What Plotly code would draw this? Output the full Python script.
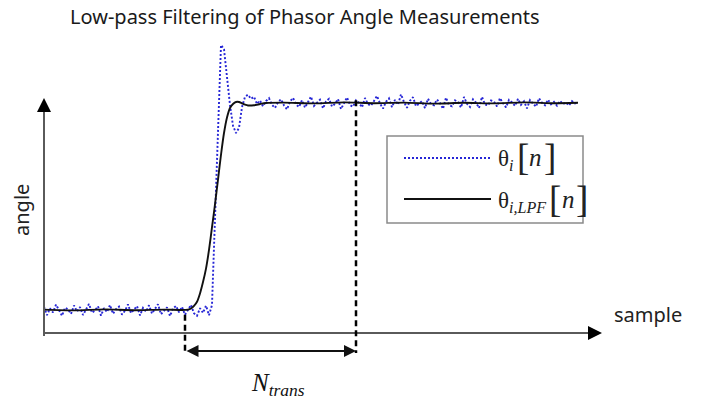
import plotly.graph_objects as go

W, H = 707, 402

# ---- data (sample index n, angle in arbitrary units: 0 = pre-step level, 100 = post-step level)
theta_pre = [
    1.5, -2.5, 0.8, -1.2, 2.6, -0.5, -2.8, 1.1, 0.3, -1.9,
    2.2, -0.7, 1.4, -2.4, 0.6, 2.9, -1.3, -0.2, 1.8, -2.7,
    0.9, -1.0, 2.4, -1.8, 0.4, 1.6, -2.2, -0.4, 2.7, -1.5,
    0.2, 1.9, -2.6, 1.0, -0.8, 2.3, -1.7, 0.5, 2.8, -2.1,
    -0.3, 1.3, -2.9, 0.7, 2.0, -1.1, 1.5, -2.3, 0.1, 2.5,
    -1.6, -2.8, 0.9, -1.4, 2.1, -2.5,
]
theta_step = [2.4, 45, 92, 128, 126, 111, 99, 89, 85.5, 88, 98, 103, 104, 102, 103, 99.5]
theta_post = [
    101.2, 98.4, 100.9, 102.3, 99.1, 97.6, 100.4, 101.8, 98.8, 96.9,
    100.7, 102.5, 99.3, 98.1, 101.4, 97.8, 100.2, 103.1, 98.6, 99.9,
    101.6, 97.4, 100.8, 102.0, 98.3, 99.6, 101.9, 97.1, 100.3, 102.7,
    99.0, 98.2, 101.3, 100.1, 97.9, 102.4, 99.4, 98.7, 101.0, 103.4,
    99.8, 97.3, 100.6, 102.2, 98.0, 101.5, 99.2, 104.2, 100.5, 97.7,
    101.1, 102.8, 98.5, 99.7, 100.9, 97.5, 102.1, 99.5, 98.9, 101.7,
    100.0, 97.2, 102.6, 99.0, 98.4, 101.3, 100.4, 97.8, 102.9, 99.6,
    98.1, 101.8, 100.2, 97.6, 103.0, 99.3, 98.8, 101.2, 100.7, 98.3,
    102.4, 99.9, 97.9, 101.5, 100.3, 98.6, 102.0, 99.1, 100.8, 97.4,
    101.4, 99.7, 98.2, 102.3, 100.1, 98.9, 101.6, 99.4, 100.6, 98.7,
    101.0, 99.5, 100.3, 98.8, 100.9, 99.8, 100.4,
]
theta = theta_pre + theta_step + theta_post
samples = list(range(len(theta)))

lpf_samples = [0, 10, 20, 30, 40, 46, 48, 49, 50, 51, 52, 53, 54, 55, 56, 57, 58, 59, 60,
               61, 62, 63, 64, 65, 66, 67, 68, 70, 72, 74, 80, 90, 100, 110, 120, 130,
               140, 150, 160, 170, 178]
lpf_values = [0.2, -0.2, 0.3, -0.1, 0.2, 0.0, 0.2, 0.7, 2.0, 4.0, 8.0, 13.5, 20, 29, 40, 51, 63, 75, 85.5,
              93, 97.6, 99.5, 100.5, 100.5, 99.8, 99.2, 98.8, 98.9, 99.5, 100.0, 100.2, 99.8, 100.3, 99.9, 100.2, 99.7,
              100.1, 99.8, 100.3, 99.9, 100.1]

N_START, N_END = 47, 104

legend_labels = ["θ<sub><i>i</i></sub>", "θ<sub><i>i,LPF</i></sub>"]
title_text = "Low-pass Filtering of Phasor Angle Measurements"

# ---- pixel <-> data mapping (layout only)
PX0, PY0, SX, SY = 44, 310, 3.0, 2.07
def X(px):
    return (px - PX0) / SX
def Y(py):
    return (PY0 - py) / SY

BLUE = "#2626d6"
fig = go.Figure()
fig.add_trace(go.Scatter(x=samples, y=theta, mode="lines",
                         line=dict(color=BLUE, width=1.9, dash="2px,2px"),
                         showlegend=False, hoverinfo="skip"))
fig.add_trace(go.Scatter(x=lpf_samples, y=lpf_values, mode="lines",
                         line=dict(color="#111111", width=1.9, shape="spline", smoothing=0.6),
                         showlegend=False, hoverinfo="skip"))

shapes = []
annotations = []
AX_COL = "#5a5a5a"
# vertical axis
shapes.append(dict(type="line", xref="x", yref="y", x0=0, x1=0, y0=Y(336), y1=Y(106),
                   line=dict(color=AX_COL, width=2)))
annotations.append(dict(x=0, y=Y(98), ax=0, ay=Y(110), xref="x", yref="y", axref="x", ayref="y",
                        text="", showarrow=True, arrowhead=2, arrowsize=1.4, arrowwidth=2,
                        arrowcolor="#000000", standoff=0, startstandoff=0))
# horizontal axis
shapes.append(dict(type="line", xref="x", yref="y", x0=0, x1=X(592), y0=Y(333), y1=Y(333),
                   line=dict(color=AX_COL, width=2)))
annotations.append(dict(x=X(602), y=Y(333), ax=X(588), ay=Y(333), xref="x", yref="y", axref="x", ayref="y",
                        text="", showarrow=True, arrowhead=2, arrowsize=1.4, arrowwidth=2,
                        arrowcolor="#000000", standoff=0, startstandoff=0))
# transition window markers
shapes.append(dict(type="line", xref="x", yref="y", x0=N_START, x1=N_START,
                   y0=theta[N_START], y1=Y(353), line=dict(color="#000", width=2.5, dash="6px,4px")))
shapes.append(dict(type="line", xref="x", yref="y", x0=N_END, x1=N_END,
                   y0=theta[N_END], y1=Y(353), line=dict(color="#000", width=2.5, dash="6px,4px")))
annotations.append(dict(x=N_END, y=Y(351), ax=N_START, ay=Y(351), xref="x", yref="y", axref="x", ayref="y",
                        text="", showarrow=True, arrowhead=2, arrowside="end+start", arrowsize=1.2,
                        arrowwidth=2, arrowcolor="#111", standoff=0, startstandoff=0))
annotations.append(dict(x=278 / W, y=1 - 384 / H, xref="paper", yref="paper", xanchor="center",
                        yanchor="middle", text="<i>N</i><sub><i>trans</i></sub>", showarrow=False,
                        font=dict(family="Liberation Serif", size=25, color="#111")))

# axis labels & title
annotations.append(dict(x=612 / W, y=1 - 330 / H, xref="paper", yref="paper", xanchor="left",
                        text="sample", showarrow=False,
                        font=dict(family="Noto Sans", size=20, color="#222")))
annotations.append(dict(x=22 / W, y=1 - 210 / H, xref="paper", yref="paper", xanchor="center",
                        yanchor="middle", text="angle", textangle=-90, showarrow=False,
                        font=dict(family="Noto Sans", size=20, color="#222")))
annotations.append(dict(x=305 / W, y=1 - 16 / H, xref="paper", yref="paper", xanchor="center",
                        yanchor="middle", text=title_text, showarrow=False,
                        font=dict(family="Noto Sans", size=20, color="#1a1a1a")))

# legend box
def PXx(px):
    return px / W
def PXy(py):
    return 1 - py / H
shapes.append(dict(type="rect", xref="paper", yref="paper", x0=PXx(387), x1=PXx(583),
                   y0=PXy(223), y1=PXy(136), line=dict(color="#8a8a8a", width=1.5),
                   fillcolor="rgba(255,255,255,0)"))
shapes.append(dict(type="line", xref="paper", yref="paper", x0=PXx(404), x1=PXx(491),
                   y0=PXy(158), y1=PXy(158), line=dict(color=BLUE, width=1.9, dash="2px,2px")))
shapes.append(dict(type="line", xref="paper", yref="paper", x0=PXx(404), x1=PXx(491),
                   y0=PXy(199), y1=PXy(199), line=dict(color="#111", width=1.9)))

serif = "Liberation Serif"
rows = [(160, 496, 515, 527, 542), (202, 496, 547, 560, 574)]
for lbl, (ry, tx, b1, nx, b2) in zip(legend_labels, rows):
    annotations.append(dict(x=PXx(tx), y=PXy(ry), xref="paper", yref="paper", xanchor="left",
                            yanchor="middle", text=lbl, showarrow=False,
                            font=dict(family=serif, size=23, color="#222")))
    annotations.append(dict(x=PXx(b1), y=PXy(ry - 3), xref="paper", yref="paper", xanchor="left",
                            yanchor="middle", text="[", showarrow=False,
                            font=dict(family=serif, size=37, color="#222")))
    annotations.append(dict(x=PXx(nx), y=PXy(ry - 3), xref="paper", yref="paper", xanchor="left",
                            yanchor="middle", text="<i>n</i>", showarrow=False,
                            font=dict(family=serif, size=25, color="#222")))
    annotations.append(dict(x=PXx(b2), y=PXy(ry - 3), xref="paper", yref="paper", xanchor="left",
                            yanchor="middle", text="]", showarrow=False,
                            font=dict(family=serif, size=37, color="#222")))

fig.update_layout(
    width=W, height=H, margin=dict(l=0, r=0, t=0, b=0),
    paper_bgcolor="white", plot_bgcolor="white",
    xaxis=dict(range=[X(0), X(W)], visible=False, fixedrange=True),
    yaxis=dict(range=[Y(H), Y(0)], visible=False, fixedrange=True),
    shapes=shapes, annotations=annotations, showlegend=False,
)
fig.write_html("out.html")
